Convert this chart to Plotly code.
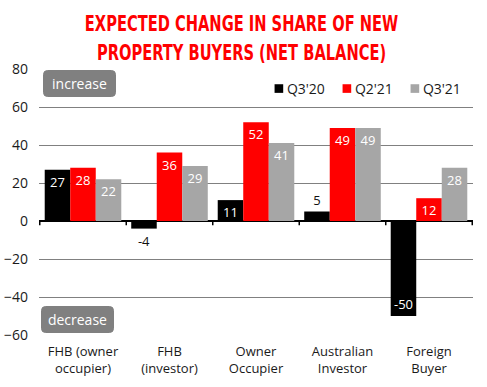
import plotly.graph_objects as go

categories = ["FHB (owner<br>occupier)", "FHB<br>(investor)", "Owner<br>Occupier", "Australian<br>Investor", "Foreign<br>Buyer"]
q3_20 = [27, -4, 11, 5, -50]
q2_21 = [28, 36, 52, 49, 12]
q3_21 = [22, 29, 41, 49, 28]
series_names = ["Q3'20", "Q2'21", "Q3'21"]
series_colors = ["#000000", "#ff0000", "#a6a6a6"]
y_ticks = [-60, -40, -20, 0, 20, 40, 60, 80]

FONT = "Open Sans, Noto Sans, DejaVu Sans, sans-serif"

fig = go.Figure()
for name, vals, col in zip(series_names, [q3_20, q2_21, q3_21], series_colors):
    pos = []
    tcol = []
    for v in vals:
        if abs(v) < 8:
            pos.append("outside")
            tcol.append("#111111")
        else:
            pos.append("inside")
            tcol.append("#ffffff")
    fig.add_trace(go.Bar(
        x=categories, y=vals, name=name,
        marker=dict(color=col, line=dict(color=col, width=0)),
        text=[str(v) for v in vals],
        textposition=pos,
        insidetextanchor="end",
        textangle=0,
        textfont=dict(color=tcol, size=13, family=FONT),
        constraintext="none",
        cliponaxis=False,
    ))

fig.update_layout(
    width=487, height=387,
    margin=dict(l=39, r=14, t=69, b=52, autoexpand=False),
    paper_bgcolor="white", plot_bgcolor="white",
    barmode="group", bargap=0.115, bargroupgap=0,
    font=dict(family=FONT, size=13, color="#1a1a1a"),
    title=dict(
        text="EXPECTED CHANGE IN SHARE OF NEW<br>PROPERTY BUYERS (NET BALANCE)",
        x=0.496, xanchor="center", y=0.915, yanchor="middle", yref="container",
        font=dict(family="DejaVu Sans Condensed, sans-serif", size=16.3, color="#ff0000", weight="bold"),
    ),
    legend=dict(
        orientation="h", x=0.479, xanchor="left", y=0.925, yanchor="middle",
        font=dict(size=14, color="#1a1a1a", family=FONT),
        bgcolor="rgba(0,0,0,0)", entrywidth=23, itemwidth=30,
    ),
    showlegend=True,
)

fig.update_yaxes(
    range=[-60, 80], tickvals=y_ticks, showgrid=True, gridcolor="#808080", gridwidth=1,
    zeroline=True, zerolinecolor="#000000", zerolinewidth=1.5,
    tickfont=dict(size=14, color="#1a1a1a"), ticks="", showline=False, automargin=False,
    ticklabelstandoff=10,
)
fig.update_xaxes(
    showgrid=False, showline=False, ticks="", tickfont=dict(size=13, color="#1a1a1a"),
    automargin=False, ticklabelstandoff=7,
)

# category-boundary tick marks on the zero line
for i in range(len(categories) + 1):
    fig.add_shape(type="line", xref="x", yref="y", x0=i - 0.5, x1=i - 0.5, y0=0, y1=-2.2,
                  line=dict(color="#000000", width=1.5))

for txt, xd, yv in [("increase", 0.094, 72.4), ("decrease", 0.088, -51.6)]:
    fig.add_annotation(
        text=txt, xref="x domain", yref="y", x=xd, y=yv, showarrow=False,
        xanchor="center", yanchor="middle",
        font=dict(size=14, color="#ffffff", family=FONT),
        bgcolor="#808080", bordercolor="#808080", borderpad=2, borderwidth=1,
        width=67, height=21,
    )

post = """
document.body.style.margin='0';
var t=document.querySelector('.gtitle');
if(t){var b=t.getBBox();var cy=b.y+b.height/2;
t.setAttribute('transform','translate(0,'+cy+') scale(1,1.35) translate(0,'+(-cy)+')');}
document.querySelectorAll('.legend .scrollbox').forEach(function(e){e.removeAttribute('clip-path');});
document.querySelectorAll('.legend .legendpoints').forEach(function(e){e.setAttribute('transform','translate(17.6,0) scale(0.72)');});
document.querySelectorAll('.annotation .bg').forEach(function(e){e.setAttribute('rx',4);e.setAttribute('ry',4);});
"""
fig.write_html("out.html", post_script=post, config={"displayModeBar": False})
